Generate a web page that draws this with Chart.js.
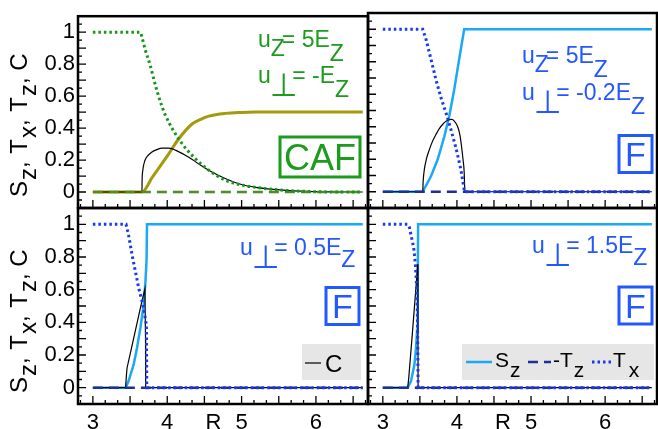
<!DOCTYPE html>
<html>
<head>
<meta charset="utf-8">
<script src="https://cdn.jsdelivr.net/npm/chart.js@4.4.0/dist/chart.umd.min.js"></script>
<style>
html, body { margin: 0; padding: 0; background: #fff; }
#wrap { position: relative; width: 658px; height: 429px; }
#wrap canvas { position: absolute; left: 0; top: 0; }
</style>
</head>
<body>
<div id="wrap">
<canvas id="p1" width="658" height="429"></canvas>
<canvas id="p2" width="658" height="429"></canvas>
<canvas id="p3" width="658" height="429"></canvas>
<canvas id="p4" width="658" height="429"></canvas>
</div>
<script>
// axis ticks
const rTicks = [3, 4, 5, 6];
const rTitleAt = 4.62;          // where the "R" sits among the x labels
const yTicks = [0, 0.2, 0.4, 0.6, 0.8, 1];

// Tz is zero everywhere
const rTz = [3.0, 6.63];
const tz = [0, 0];

// panel 1: CAF, u_perp = -E_Z
const rCafTx = [3.0, 3.635, 3.66, 3.70, 3.77, 3.84, 3.905, 3.97, 4.085, 4.22, 4.38, 4.56, 4.78, 5.05, 5.19, 5.35, 5.6, 5.8, 6.1, 6.63];
const cafTx = [1, 1, 0.97, 0.897, 0.794, 0.67, 0.568, 0.486, 0.383, 0.29, 0.208, 0.136, 0.074, 0.039, 0.029, 0.02, 0.01, 0.005, 0.001, 0];
const rCafSz = [3.0, 3.66, 3.8, 4.02, 4.15, 4.33, 4.45, 4.56, 4.78, 5.0, 5.19, 6.63];
const cafSz = [0, 0, 0.093, 0.239, 0.33, 0.424, 0.455, 0.475, 0.492, 0.498, 0.5, 0.5];
const rCafC = [3.0, 3.66, 3.662, 3.67, 3.70, 3.74, 3.79, 3.86, 3.93, 4.02, 4.15, 4.29, 4.42, 4.60, 4.78, 5.0, 5.19, 5.35, 5.6, 5.8, 6.1, 6.63];
const cafC = [0, 0, 0.07, 0.13, 0.197, 0.228, 0.249, 0.265, 0.274, 0.274, 0.253, 0.218, 0.177, 0.125, 0.085, 0.047, 0.029, 0.02, 0.01, 0.005, 0.001, 0];

// panel 2: F, u_perp = -0.2 E_Z
const rFaTx = [3.0, 3.538, 3.583, 3.65, 3.717, 3.785, 3.852, 3.919, 3.987, 4.054, 4.098, 4.105, 6.63];
const faTx = [1, 1, 0.938, 0.815, 0.69, 0.578, 0.486, 0.383, 0.27, 0.136, 0.012, 0, 0];
const rFaSz = [3.0, 3.538, 3.65, 3.74, 3.83, 3.896, 3.964, 4.03, 4.098, 6.63];
const faSz = [0, 0, 0.095, 0.198, 0.34, 0.465, 0.63, 0.815, 1, 1];
const rFaC = [3.0, 3.538, 3.545, 3.56, 3.59, 3.628, 3.67, 3.717, 3.76, 3.806, 3.85, 3.896, 3.93, 3.965, 4.008, 4.04, 4.062, 4.082, 4.098, 4.107, 6.63];
const faC = [0, 0, 0.07, 0.136, 0.205, 0.259, 0.31, 0.352, 0.387, 0.414, 0.433, 0.444, 0.445, 0.435, 0.403, 0.35, 0.28, 0.2, 0.12, 0, 0];

// panel 3: F, u_perp = 0.5 E_Z
const rFbTx = [3.0, 3.446, 3.48, 3.527, 3.572, 3.616, 3.662, 3.697, 3.72, 3.725, 6.63];
const fbTx = [1, 1, 0.935, 0.813, 0.711, 0.61, 0.528, 0.447, 0.38, 0, 0];
const rFbSz = [3.0, 3.44, 3.48, 3.549, 3.594, 3.639, 3.684, 3.707, 3.722, 3.728, 6.63];
const fbSz = [0, 0, 0.04, 0.142, 0.244, 0.366, 0.508, 0.65, 0.78, 1, 1];
const rFbC = [3.0, 3.44, 3.45, 3.46, 3.52, 3.57, 3.62, 3.66, 3.70, 3.708, 3.71, 6.63];
const fbC = [0, 0, 0.07, 0.122, 0.244, 0.346, 0.448, 0.53, 0.605, 0.3, 0, 0];

// panel 4: F, u_perp = 1.5 E_Z
const rFcTx = [3.0, 3.336, 3.36, 3.38, 3.40, 3.42, 3.44, 3.455, 3.465, 3.472, 3.476, 6.63];
const fcTx = [1, 1, 0.98, 0.935, 0.895, 0.845, 0.75, 0.63, 0.5, 0.25, 0, 0];
const rFcSz = [3.0, 3.336, 3.38, 3.426, 3.449, 3.462, 3.47, 3.476, 6.63];
const fcSz = [0, 0, 0.04, 0.14, 0.244, 0.35, 0.45, 1, 1];
const rFcC = [3.0, 3.336, 3.35, 3.40, 3.45, 3.47, 3.474, 3.476, 6.63];
const fcC = [0, 0, 0.06, 0.34, 0.63, 0.756, 0.4, 0, 0];

const W = 658, H = 429;
const fam = '"Liberation Sans", Arial, Helvetica, sans-serif';
const perpFont = '32px "DejaVu Sans", sans-serif';
const green = '#1d9b1d', greenDot = '#14961a', olive = '#a39b0c', greenDash = '#4f8c23';
const blueTxt = '#2458ff', blueDot = '#1838f0', cyan = '#1ba8f5', navy = '#1f2f95';

function pts(rs, vs) {
    return rs.map((r, i) => ({ x: r, y: vs[i] }));
}

function txSet(rs, vs, color, smooth) {
    return { label: 'Tx', data: pts(rs, vs), borderColor: color, borderWidth: 3, borderDash: [2.5, 3], cubicInterpolationMode: smooth ? 'monotone' : 'default', tension: 0 };
}
function tzSet(color) {
    return { label: '-Tz', data: pts(rTz, tz), borderColor: color, borderWidth: 2.5, borderDash: [10, 6] };
}
function cSet(rs, vs, smooth) {
    return { label: 'C', data: pts(rs, vs), borderColor: '#000', borderWidth: 1.2, cubicInterpolationMode: smooth ? 'monotone' : 'default', tension: 0 };
}
function szSet(rs, vs, color, width, smooth) {
    return { label: 'Sz', data: pts(rs, vs), borderColor: color, borderWidth: width, cubicInterpolationMode: smooth ? 'monotone' : 'default', tension: 0 };
}

// parts: [text, dy, dx, font, fixed advance]
function richText(ctx, x, y, parts, size, color) {
    const base = size + 'px ' + fam;
    ctx.fillStyle = color;
    ctx.textAlign = 'left';
    ctx.textBaseline = 'alphabetic';
    let cx = x;
    parts.forEach(p => {
        const [t, dy = 0, dx = 0, f, adv] = p;
        ctx.font = f || base;
        cx += dx;
        ctx.fillText(t, cx, y + dy);
        cx += adv || ctx.measureText(t).width;
    });
    return cx;
}

const deco = {
    id: 'deco',
    afterDatasetsDraw(chart, args, o) {
        const { ctx, chartArea: a, scales: { x, y } } = chart;
        ctx.save();
        ctx.strokeStyle = '#000';
        ctx.lineWidth = 1.3;
        ctx.beginPath();
        // inward ticks, bottom and left
        for (let k = -1; k <= 22; k++) {
            const px = x.getPixelForValue(3 + k / 6);
            const len = k % 3 === 0 ? 8 : 4;
            ctx.moveTo(px, a.bottom);
            ctx.lineTo(px, a.bottom - len);
        }
        for (let k = -1; k <= 21; k++) {
            const py = y.getPixelForValue(k * 0.05);
            const len = k % 2 === 0 ? 8 : 4;
            ctx.moveTo(a.left, py);
            ctx.lineTo(a.left + len, py);
        }
        ctx.stroke();
        ctx.lineWidth = 2.5;
        ctx.strokeRect(a.left, a.top, a.right - a.left, a.bottom - a.top);

        (o.notes || []).forEach(n => richText(ctx, n.x, n.y, n.parts, 23, n.color));

        if (o.box) {
            const b = o.box;
            ctx.lineWidth = 3;
            ctx.strokeStyle = b.color;
            ctx.strokeRect(b.x, b.y, b.w, b.h);
            ctx.font = b.size + 'px ' + fam;
            ctx.fillStyle = b.color;
            ctx.textAlign = 'center';
            ctx.textBaseline = 'alphabetic';
            ctx.fillText(b.text, b.x + b.w / 2, b.y + b.h / 2 + b.size * 0.36);
        }

        if (o.legend) {
            const L = o.legend;
            ctx.fillStyle = '#e6e6e6';
            ctx.fillRect(L.x, L.y, L.w, L.h);
            L.items.forEach(it => {
                const ds = chart.data.datasets[it.ds];
                ctx.save();
                ctx.strokeStyle = ds.borderColor;
                ctx.lineWidth = ds.borderWidth;
                ctx.setLineDash(ds.borderDash || []);
                ctx.beginPath();
                ctx.moveTo(it.x0, it.ly);
                ctx.lineTo(it.x1, it.ly);
                ctx.stroke();
                ctx.restore();
                richText(ctx, it.tx, it.ty, it.parts, it.size, '#000');
            });
        }

        if (o.title) {
            ctx.translate(o.title.x, o.title.y);
            ctx.rotate(-Math.PI / 2);
            richText(ctx, 0, 0, [['S'], ['z', 9, 1], [', '], ['T', 0, 1], ['x', 9, 1], [', '], ['T', 0, 1], ['z', 9, 1], [', C']], 24, '#000');
        }
        ctx.restore();
    }
};

function panel(id, p) {
    return new Chart(document.getElementById(id), {
        type: 'line',
        data: { datasets: p.datasets },
        options: {
            responsive: false,
            animation: false,
            devicePixelRatio: 1,
            layout: { padding: { left: p.left - p.yw, top: p.top, right: W - p.right, bottom: H - p.bottom - p.xh } },
            elements: { point: { radius: 0 } },
            plugins: {
                legend: { display: false },
                tooltip: { enabled: false },
                deco: p.deco
            },
            scales: {
                x: {
                    type: 'linear',
                    min: 2.8,
                    max: 6.7,
                    grid: { display: false, drawTicks: false },
                    border: { display: false },
                    afterBuildTicks: s => { s.ticks = rTicks.concat([rTitleAt]).sort((m, n) => m - n).map(v => ({ value: v })); },
                    afterFit: s => { s.height = p.xh; },
                    ticks: {
                        display: p.xh > 0,
                        autoSkip: false,
                        maxRotation: 0,
                        padding: 6,
                        color: '#000',
                        font: { family: fam, size: 22 },
                        callback: v => v === rTitleAt ? 'R' : String(v)
                    }
                },
                y: {
                    type: 'linear',
                    min: -0.1,
                    max: 1.1,
                    grid: { display: false, drawTicks: false },
                    border: { display: false },
                    afterBuildTicks: s => { s.ticks = yTicks.map(v => ({ value: v })); },
                    afterFit: s => { s.width = p.yw; },
                    ticks: {
                        display: p.yw > 0,
                        padding: 3,
                        color: '#000',
                        font: { family: fam, size: 22 },
                        callback: v => String(Math.round(v * 10) / 10)
                    }
                }
            }
        },
        plugins: [deco]
    });
}

const perp = ['\u22A5', 13, -1, perpFont, 16];

// top left: CAF
panel('p1', {
    left: 78, right: 368, top: 13, bottom: 208, yw: 78, xh: 0,
    datasets: [
        txSet(rCafTx, cafTx, greenDot, true),
        tzSet(greenDash),
        cSet(rCafC, cafC, true),
        szSet(rCafSz, cafSz, olive, 3, true)
    ],
    deco: {
        notes: [
            { x: 258, y: 47, color: green, parts: [['u'], ['Z', 9], ['= 5E', 0, -3], ['Z', 14]] },
            { x: 258, y: 83, color: green, parts: [['u'], perp, [' = -E'], ['Z', 14]] }
        ],
        box: { x: 280, y: 137, w: 80, h: 40, text: 'CAF', size: 36, color: green },
        title: { x: 27, y: 197 }
    }
});

// top right: F, u_perp = -0.2
panel('p2', {
    left: 368, right: 657, top: 13, bottom: 208, yw: 0, xh: 0,
    datasets: [
        txSet(rFaTx, faTx, blueDot, false),
        tzSet(navy),
        cSet(rFaC, faC, true),
        szSet(rFaSz, faSz, cyan, 2.5, false)
    ],
    deco: {
        notes: [
            { x: 522, y: 63, color: blueTxt, parts: [['u'], ['Z', 9], ['= 5E', 0, -3], ['Z', 14]] },
            { x: 522, y: 100, color: blueTxt, parts: [['u'], perp, [' = -0.2E'], ['Z', 14]] }
        ],
        box: { x: 619, y: 135.5, w: 33, h: 37, text: 'F', size: 34, color: blueTxt }
    }
});

// bottom left: F, u_perp = 0.5
panel('p3', {
    left: 78, right: 368, top: 208, bottom: 404, yw: 78, xh: 25,
    datasets: [
        txSet(rFbTx, fbTx, blueDot, false),
        tzSet(navy),
        cSet(rFbC, fbC, false),
        szSet(rFbSz, fbSz, cyan, 2.5, false)
    ],
    deco: {
        notes: [
            { x: 240, y: 255, color: blueTxt, parts: [['u'], perp, [' = 0.5E'], ['Z', 12]] }
        ],
        box: { x: 326, y: 287.5, w: 33, h: 37, text: 'F', size: 34, color: blueTxt },
        legend: {
            x: 302, y: 344, w: 59, h: 36,
            items: [{ ds: 2, x0: 305, x1: 321, ly: 363, tx: 325, ty: 372, size: 24, parts: [['C']] }]
        },
        title: { x: 27, y: 393 }
    }
});

// bottom right: F, u_perp = 1.5
panel('p4', {
    left: 368, right: 657, top: 208, bottom: 404, yw: 0, xh: 25,
    datasets: [
        txSet(rFcTx, fcTx, blueDot, false),
        tzSet(navy),
        cSet(rFcC, fcC, false),
        szSet(rFcSz, fcSz, cyan, 2.5, false)
    ],
    deco: {
        notes: [
            { x: 532, y: 253, color: blueTxt, parts: [['u'], perp, [' = 1.5E'], ['Z', 12]] }
        ],
        box: { x: 619, y: 287, w: 33, h: 37, text: 'F', size: 34, color: blueTxt },
        legend: {
            x: 462, y: 344, w: 192, h: 36,
            items: [
                { ds: 3, x0: 466, x1: 492, ly: 362, tx: 495, ty: 367, size: 21, parts: [['S'], ['z', 10, 1]] },
                { ds: 1, x0: 528, x1: 551, ly: 362, tx: 553, ty: 367, size: 21, parts: [['-T'], ['z', 10, 1]] },
                { ds: 0, x0: 592, x1: 611, ly: 362, tx: 613, ty: 367, size: 21, parts: [['T'], ['x', 10, 3]] }
            ]
        }
    }
});
</script>
</body>
</html>
